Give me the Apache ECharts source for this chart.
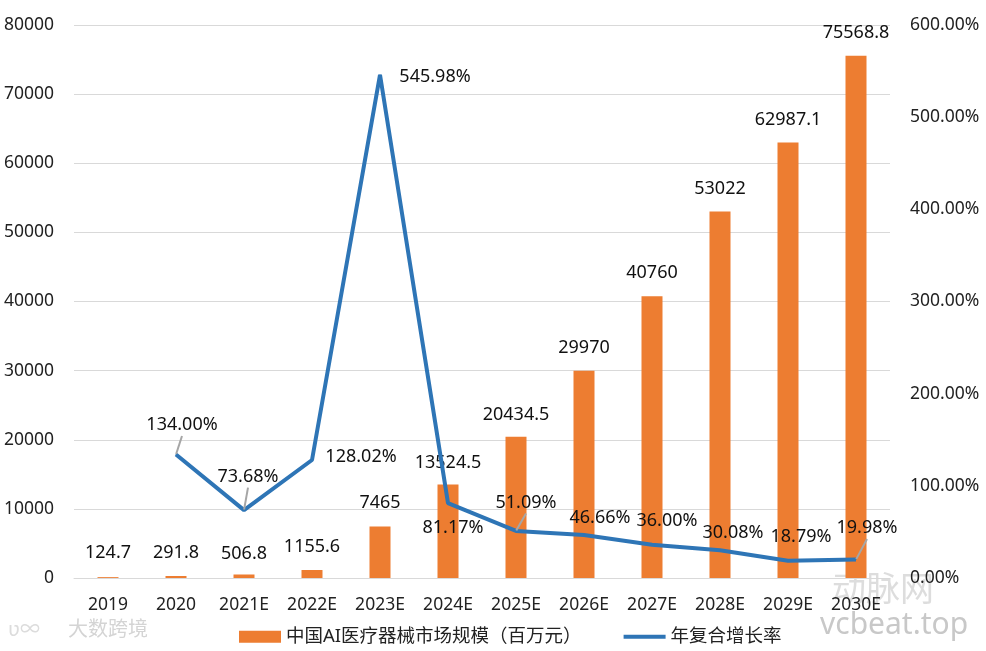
<!DOCTYPE html>
<html><head><meta charset="utf-8">
<script src="https://cdn.jsdelivr.net/npm/echarts@6/dist/echarts.min.js"></script>
<style>html,body{margin:0;padding:0;background:#fff}#c{width:986px;height:651px}</style>
</head><body><div id="c"></div>
<script>
const categories = ['2019','2020','2021E','2022E','2023E','2024E','2025E','2026E','2027E','2028E','2029E','2030E'];
const marketSize = [124.7, 291.8, 506.8, 1155.6, 7465, 13524.5, 20434.5, 29970, 40760, 53022, 62987.1, 75568.8];
const growthRate = [null, 134.00, 73.68, 128.02, 545.98, 81.17, 51.09, 46.66, 36.00, 30.08, 18.79, 19.98];
const barLabelOffsets = [[0,-13],[0,-12],[0,-10],[0,-12],[0,-13],[0,-11],[0,-11],[0,-12],[0,-12],[0,-12],[0,-12],[0,-12]];
const lineLabelShifts = [[0,0],[6,-18],[4,-22],[49,8],[55,14],[5,36],[10,-17],[16,-6],[15,-12],[13,-6],[13,-12],[11,-20]];
const lineLeader = [false, true, true, false, false, false, true, false, false, false, false, true];

const FONT = '"Noto Sans", "Noto Sans CJK SC", sans-serif';
const chart = echarts.init(document.getElementById('c'));
chart.setOption({
  animation: false,
  textStyle: { fontFamily: FONT },
  grid: { left: 74, right: 96, top: 25, bottom: 73 },
  legend: {
    bottom: 0, left: 234, itemGap: 42, itemWidth: 42, itemHeight: 12,
    textStyle: { fontSize: 18.5, color: '#222', fontFamily: FONT },
    data: [
      { name: '中国AI医疗器械市场规模（百万元）', icon: 'rect', itemStyle: { color: '#ED7D31' } },
      { name: '年复合增长率', icon: 'path://M0,4 L44,4 L44,8 L0,8 Z' }
    ]
  },
  xAxis: {
    type: 'category', data: categories,
    axisLine: { lineStyle: { color: '#d9d9d9' } },
    axisTick: { show: false },
    axisLabel: { fontSize: 17.5, color: '#222', margin: 18, interval: 0 }
  },
  yAxis: [
    { type: 'value', min: 0, max: 80000, interval: 10000,
      axisLabel: { fontSize: 17.5, color: '#222', margin: 20, formatter: v => String(v) },
      splitLine: { lineStyle: { color: '#d9d9d9' } } },
    { type: 'value', min: 0, max: 600, interval: 100,
      axisLabel: { fontSize: 17.5, color: '#222', margin: 20, formatter: v => v.toFixed(2) + '%' },
      splitLine: { show: false } }
  ],
  series: [
    { name: '中国AI医疗器械市场规模（百万元）', type: 'bar', barWidth: 21,
      itemStyle: { color: '#ED7D31' },
      data: marketSize.map((v, i) => ({ value: v,
        label: { show: true, position: 'top', distance: 0, offset: barLabelOffsets[i],
                 fontSize: 18, lineHeight: 22, color: '#111', formatter: String(v) } })) },
    { name: '年复合增长率', type: 'line', yAxisIndex: 1, symbol: 'circle', symbolSize: 1, showSymbol: true,
      lineStyle: { color: '#2E75B6', width: 4 }, itemStyle: { color: '#2E75B6' },
      connectNulls: false,
      labelLayout: function (p) {
        const s = lineLabelShifts[p.dataIndex];
        return { dx: s[0], dy: s[1] };
      },
      data: growthRate.map((v, i) => ({ value: v,
        label: { show: v !== null, position: 'top', distance: 0,
                 fontSize: 18, lineHeight: 22, color: '#111',
                 formatter: v === null ? '' : v.toFixed(2) + '%' },
        labelLine: { show: lineLeader[i], length2: 0, lineStyle: { color: '#a6a6a6', width: 2 } } })) }
  ],
  graphic: [
    { type: 'text', left: 68, top: 620, style: { text: '大数跨境', fontSize: 20, fill: '#d4d4d4', fontFamily: FONT } },
    { type: 'text', left: 8, top: 620, style: { text: 'ʋ∞', fontSize: 20, fill: '#dcdcdc', fontFamily: FONT } },
    { type: 'text', left: 820, top: 610, style: { text: 'vcbeat.top', fontSize: 30, fill: '#c8c8c8', fontFamily: FONT } },
    { type: 'text', left: 832, top: 574, style: { text: '动脉网', fontSize: 34, fill: 'rgba(180,180,180,0.45)', fontFamily: FONT } }
  ]
});
</script></body></html>
